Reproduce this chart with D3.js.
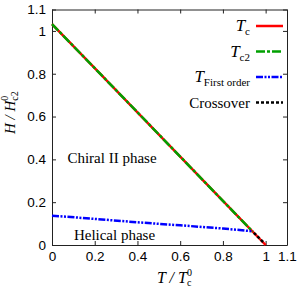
<!DOCTYPE html>
<html>
<head>
<meta charset="utf-8">
<script src="https://cdn.jsdelivr.net/npm/d3@7"></script>
<style>
  body { margin: 0; background: #fff; }
  svg { display: block; }
  .serif, .serif tspan { font-family: 'Liberation Serif', 'Times New Roman', serif; }
</style>
</head>
<body>
<div id="chart"></div>
<script>
// values
var xTicks = [0, 0.2, 0.4, 0.6, 0.8, 1, 1.1];
var yTicks = [0, 0.2, 0.4, 0.6, 0.8, 1, 1.1];
var xTickLabels = ["0", "0.2", "0.4", "0.6", "0.8", "1", "1.1"];
var yTickLabels = ["0", "0.2", "0.4", "0.6", "0.8", "1", "1.1"];

var tcLine = [[0, 1.032], [0.2, 0.826], [0.4, 0.62], [0.6, 0.413], [0.8, 0.206], [1, 0]];
var tc2Line = [[0, 1.032], [0.2, 0.826], [0.4, 0.62], [0.6, 0.413], [0.8, 0.206], [0.94, 0.062]];
var firstOrderLine = [[0, 0.137], [0.2, 0.122], [0.4, 0.106], [0.6, 0.092], [0.8, 0.077], [0.94, 0.064]];
var crossoverLine = [[0.945, 0.057], [0.99, 0.012]];

const svgWidth = 300;
const svgHeight = 290;
const plot = {left: 52, right: 287, top: 9.5, bottom: 245};

var sans = "'Liberation Sans', Arial, sans-serif";

const svg = d3.select("#chart")
  .append("svg")
  .attr("width", svgWidth)
  .attr("height", svgHeight);

var x = d3.scaleLinear().domain([0, 1.1]).range([plot.left, plot.right]);
var y = d3.scaleLinear().domain([0, 1.1]).range([plot.bottom, plot.top]);

// axes, ticks pointing inward
function styleAxis(g) {
  g.attr("font-family", sans).attr("font-size", 13.5);
  g.selectAll("path, line").attr("stroke", "#222").attr("stroke-width", 1);
  g.selectAll("text").attr("fill", "#000");
}

svg.append("g")
  .attr("transform", "translate(0," + plot.bottom + ")")
  .call(d3.axisBottom(x).tickValues(xTicks).tickSizeInner(-4).tickSizeOuter(0).tickPadding(6)
    .tickFormat(function(d, i) { return xTickLabels[i]; }))
  .call(styleAxis);

svg.append("g")
  .attr("transform", "translate(" + plot.left + ",0)")
  .call(d3.axisLeft(y).tickValues(yTicks).tickSizeInner(-4).tickSizeOuter(0).tickPadding(6)
    .tickFormat(function(d, i) { return yTickLabels[i]; }))
  .call(styleAxis);

svg.append("g")
  .attr("transform", "translate(0," + plot.top + ")")
  .call(d3.axisTop(x).tickValues(xTicks).tickSizeInner(-4).tickSizeOuter(0).tickFormat(""))
  .call(styleAxis);

svg.append("g")
  .attr("transform", "translate(" + plot.right + ",0)")
  .call(d3.axisRight(y).tickValues(yTicks).tickSizeInner(-4).tickSizeOuter(0).tickFormat(""))
  .call(styleAxis);

// lines
var line = d3.line().x(d => x(d[0])).y(d => y(d[1]));

var series = [
  {data: tcLine, color: "#ff0000", dash: null},
  {data: tc2Line, color: "#00a000", dash: "9,2,3,2"},
  {data: firstOrderLine, color: "#0000ff", dash: "7,1.5,2,1.5,2,1.5"},
  {data: crossoverLine, color: "#000000", dash: "3,2"}
];

svg.selectAll(".series")
  .data(series).enter()
  .append("path")
  .attr("class", "series")
  .attr("d", d => line(d.data))
  .attr("fill", "none")
  .attr("stroke", d => d.color)
  .attr("stroke-width", 2.5)
  .attr("stroke-dasharray", d => d.dash);

// legend
var legendRows = [
  {main: "T", sub: "c", color: "#ff0000", dash: null},
  {main: "T", sub: "c2", color: "#00a000", dash: "9,2,3,2"},
  {main: "T", sub: "First order", color: "#0000ff", dash: "7,1.5,2,1.5,2,1.5"},
  {main: "Crossover", sub: null, color: "#000000", dash: "3,2"}
];
var legendY = [26, 51.5, 77, 102.5];

var leg = svg.selectAll(".leg")
  .data(legendRows).enter()
  .append("g")
  .attr("class", "leg")
  .attr("transform", (d, i) => "translate(0," + legendY[i] + ")");

leg.append("line")
  .attr("x1", 256).attr("x2", 283)
  .attr("stroke", d => d.color)
  .attr("stroke-width", 2.5)
  .attr("stroke-dasharray", d => d.dash);

var legText = leg.append("text")
  .attr("class", "serif")
  .attr("x", 250)
  .attr("y", 5)
  .attr("text-anchor", "end")
  .attr("fill", "#000");

legText.append("tspan")
  .attr("font-style", d => d.sub ? "italic" : "normal")
  .attr("font-size", d => d.sub ? 17 : 15)
  .text(d => d.main);
legText.filter(d => d.sub)
  .append("tspan")
  .attr("font-size", 11)
  .attr("dy", 4)
  .text(d => d.sub);

// region labels
svg.append("text")
  .attr("class", "serif")
  .attr("x", 112).attr("y", 163)
  .attr("text-anchor", "middle")
  .attr("font-size", 15)
  .text("Chiral II phase");

svg.append("text")
  .attr("class", "serif")
  .attr("x", 114.5).attr("y", 240)
  .attr("text-anchor", "middle")
  .attr("font-size", 15)
  .text("Helical phase");

// axis titles
var xt = svg.append("text")
  .attr("class", "serif")
  .attr("x", 157).attr("y", 283)
  .attr("font-size", 16).attr("font-style", "italic");
xt.append("tspan").text("T / T");
xt.append("tspan").attr("font-size", 10).attr("font-style", "normal").attr("dy", -7).text("0");
xt.append("tspan").attr("font-size", 10).attr("font-style", "normal").attr("dx", -5).attr("dy", 10).text("c");

var yt = svg.append("text")
  .attr("class", "serif")
  .attr("transform", "translate(15,134) rotate(-90)")
  .attr("font-size", 15).attr("font-style", "italic");
yt.append("tspan").text("H / H");
yt.append("tspan").attr("font-size", 10).attr("font-style", "normal").attr("dy", -7).text("0");
yt.append("tspan").attr("font-size", 10).attr("font-style", "normal").attr("dx", -5).attr("dy", 10).text("c2");
</script>
</body>
</html>
